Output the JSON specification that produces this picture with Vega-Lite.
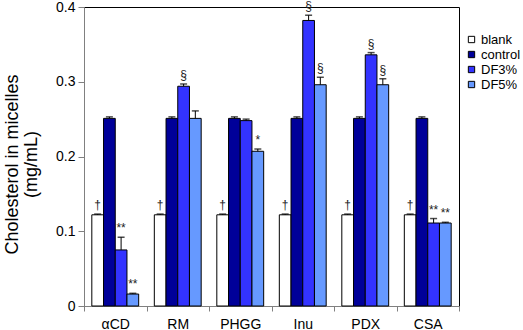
{
  "$schema": "https://vega.github.io/schema/vega-lite/v6.json",
  "width": 375,
  "height": 299,
  "autosize": {"type": "none"},
  "padding": {"left": 84, "top": 7, "right": 64, "bottom": 24},
  "background": "white",
  "config": {
    "font": "Liberation Sans",
    "view": {"stroke": "black", "strokeWidth": 1},
    "axis": {"grid": false, "domainColor": "#808080", "tickColor": "#808080", "labelColor": "black", "titleColor": "black", "labelFont": "Liberation Sans", "titleFont": "Liberation Sans"}
  },
  "data": {
    "values": [
      {"group": "αCD", "series": "blank", "value": 0.122, "err": 0.001, "sig": "†"},
      {"group": "αCD", "series": "control", "value": 0.251, "err": 0.002, "sig": ""},
      {"group": "αCD", "series": "DF3%", "value": 0.075, "err": 0.017, "sig": "**"},
      {"group": "αCD", "series": "DF5%", "value": 0.016, "err": 0.001, "sig": "**"},
      {"group": "RM", "series": "blank", "value": 0.122, "err": 0.001, "sig": "†"},
      {"group": "RM", "series": "control", "value": 0.251, "err": 0.002, "sig": ""},
      {"group": "RM", "series": "DF3%", "value": 0.294, "err": 0.003, "sig": "§"},
      {"group": "RM", "series": "DF5%", "value": 0.251, "err": 0.010, "sig": ""},
      {"group": "PHGG", "series": "blank", "value": 0.122, "err": 0.001, "sig": "†"},
      {"group": "PHGG", "series": "control", "value": 0.251, "err": 0.002, "sig": ""},
      {"group": "PHGG", "series": "DF3%", "value": 0.248, "err": 0.002, "sig": ""},
      {"group": "PHGG", "series": "DF5%", "value": 0.207, "err": 0.003, "sig": "*"},
      {"group": "Inu", "series": "blank", "value": 0.122, "err": 0.001, "sig": "†"},
      {"group": "Inu", "series": "control", "value": 0.251, "err": 0.002, "sig": ""},
      {"group": "Inu", "series": "DF3%", "value": 0.382, "err": 0.007, "sig": "§"},
      {"group": "Inu", "series": "DF5%", "value": 0.296, "err": 0.010, "sig": "§"},
      {"group": "PDX", "series": "blank", "value": 0.122, "err": 0.001, "sig": "†"},
      {"group": "PDX", "series": "control", "value": 0.251, "err": 0.002, "sig": ""},
      {"group": "PDX", "series": "DF3%", "value": 0.336, "err": 0.003, "sig": "§"},
      {"group": "PDX", "series": "DF5%", "value": 0.296, "err": 0.008, "sig": "§"},
      {"group": "CSA", "series": "blank", "value": 0.122, "err": 0.001, "sig": "†"},
      {"group": "CSA", "series": "control", "value": 0.251, "err": 0.002, "sig": ""},
      {"group": "CSA", "series": "DF3%", "value": 0.111, "err": 0.006, "sig": "**"},
      {"group": "CSA", "series": "DF5%", "value": 0.111, "err": 0.001, "sig": "**"}
    ]
  },
  "transform": [{"calculate": "datum.value + datum.err", "as": "upper"}],
  "encoding": {
    "x": {
      "field": "group", "type": "nominal",
      "sort": ["αCD", "RM", "PHGG", "Inu", "PDX", "CSA"],
      "scale": {"paddingInner": 0, "paddingOuter": 0},
      "axis": {"title": null, "labelAngle": 0, "tickBand": "extent", "tickSize": 5, "labelPadding": 6, "labelFontSize": 14}
    },
    "xOffset": {
      "field": "series", "type": "nominal",
      "sort": ["blank", "control", "DF3%", "DF5%"],
      "scale": {"paddingInner": 0, "paddingOuter": 0.667}
    }
  },
  "layer": [
    {
      "mark": {"type": "bar", "stroke": "black", "strokeWidth": 1},
      "encoding": {
        "y": {
          "field": "value", "type": "quantitative",
          "scale": {"domain": [0, 0.4]},
          "axis": {
            "values": [0, 0.1, 0.2, 0.3, 0.4],
            "labelExpr": "datum.value == 0 ? '0' : format(datum.value, '.1f')",
            "labelFontSize": 14, "tickSize": 6, "labelPadding": 3,
            "title": ["Cholesterol in micelles", "(mg/mL)"],
            "titleFontSize": 18, "titleFontWeight": "normal", "titlePadding": 15, "titleLineHeight": 19, "titleY": 157
          }
        },
        "fill": {
          "field": "series", "type": "nominal",
          "scale": {"domain": ["blank", "control", "DF3%", "DF5%"], "range": ["#ffffff", "#000099", "#3333ff", "#6699ff"]},
          "legend": {
            "title": null, "orient": "none", "legendX": 381, "legendY": 26,
            "symbolType": "square", "symbolSize": 40, "symbolStrokeColor": "black", "symbolStrokeWidth": 1,
            "labelFontSize": 13, "labelOffset": 3, "rowPadding": 1, "padding": 0
          }
        }
      }
    },
    {
      "mark": {"type": "rule", "color": "black", "strokeWidth": 1},
      "encoding": {
        "y": {"field": "value", "type": "quantitative"},
        "y2": {"field": "upper"}
      }
    },
    {
      "mark": {"type": "tick", "color": "black", "size": 7, "thickness": 1.5, "orient": "horizontal"},
      "encoding": {
        "y": {"field": "upper", "type": "quantitative"}
      }
    },
    {
      "mark": {"type": "text", "baseline": "alphabetic", "dy": -5, "fontSize": 12, "color": "#222222"},
      "encoding": {
        "y": {"field": "upper", "type": "quantitative"},
        "text": {"field": "sig"}
      }
    }
  ]
}
